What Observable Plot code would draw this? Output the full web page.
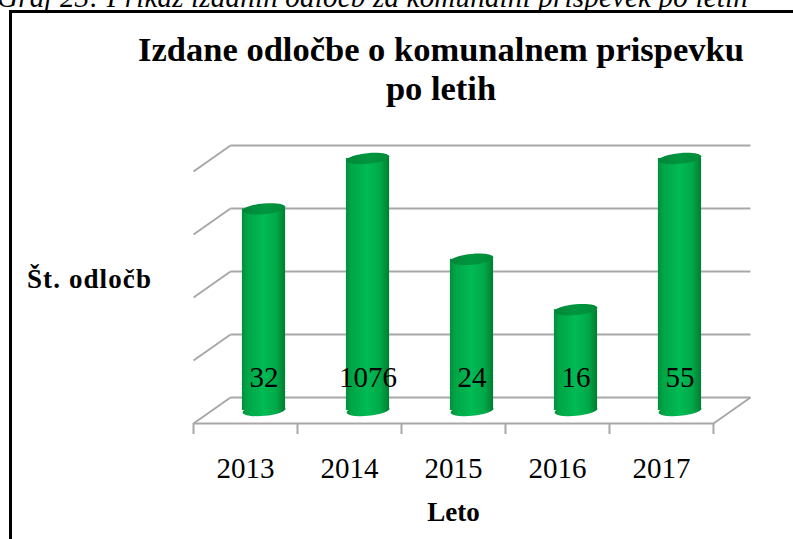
<!DOCTYPE html>
<html>
<head>
<meta charset="utf-8">
<script src="https://cdn.jsdelivr.net/npm/d3@7"></script>
<script src="https://cdn.jsdelivr.net/npm/@observablehq/plot@0.6"></script>
<style>
  html, body { margin: 0; padding: 0; background: #fff; }
  #wrap { position: relative; width: 793px; height: 539px; overflow: hidden; background: #fff; }
  #wrap > * { position: absolute; }
  .serif { font-family: "Liberation Serif", "DejaVu Serif", serif; color: #000; }
</style>
</head>
<body>
<div id="wrap">
  <div id="caption" class="serif" style="left:-3px; top:-17px; font-size:29px; letter-spacing:0.2px; font-style:italic; white-space:nowrap; line-height:29px;"></div>
  <div style="left:9px; top:10px; width:800px; height:3px; background:#000;"></div>
  <div style="left:9px; top:10px; width:3px; height:540px; background:#000;"></div>
  <div id="chart" style="left:0; top:0;"></div>
  <div id="title" class="serif" style="left:60px; width:762px; top:30px; font-size:34.5px; font-weight:bold; text-align:center; line-height:39px;"></div>
  <div id="ylab" class="serif" style="left:27px; top:264px; font-size:27px; letter-spacing:1.1px; font-weight:bold; white-space:nowrap; line-height:30px;"></div>
</div>
<script>
// ---- data ----
const years = ["2013", "2014", "2015", "2016", "2017"];
const counts = [32, 1076, 24, 16, 55];
const gridValues = [0, 10, 20, 30, 40];
const yMax = 40;
const titleLines = ["Izdane odločbe o komunalnem prispevku", "po letih"];
const yLabel = "Št. odločb";
const xLabel = "Leto";
const captionText = "Graf 23: Prikaz izdanih odločb za komunalni prispevek po letih";

// ---- text ----
document.getElementById("caption").textContent = captionText;
document.getElementById("title").innerHTML = titleLines.join("<br>");
document.getElementById("ylab").textContent = yLabel;

// ---- 3D depth offsets in data units ----
const DX = 0.356, DY = 4.13;
const barW = 0.415;

const rows = years.map((y, i) => ({
  year: y, i, value: counts[i],
  shown: Math.min(counts[i], yMax),
  cx: i + 0.5 + DX / 2
}));

// ellipse symbol for cylinder caps
function ellipseSymbol(ratio, angle) {
  return {
    draw(ctx, size) {
      const rx = Math.sqrt(size / Math.PI), ry = rx * ratio, k = 0.5523;
      const c = Math.cos(angle), s = Math.sin(angle);
      const P = (x, y) => [x * c - y * s, x * s + y * c];
      const seq = [
        [[rx, k * ry], [k * rx, ry], [0, ry]],
        [[-k * rx, ry], [-rx, k * ry], [-rx, 0]],
        [[-rx, -k * ry], [-k * rx, -ry], [0, -ry]],
        [[k * rx, -ry], [rx, -k * ry], [rx, 0]]
      ];
      ctx.moveTo(...P(rx, 0));
      for (const [a, b, e] of seq) ctx.bezierCurveTo(...P(...a), ...P(...b), ...P(...e));
      ctx.closePath();
    }
  };
}
const capSym = ellipseSymbol(0.25, -0.09);

const grey = "#a8a8a8";
const chart = Plot.plot({
  width: 793,
  height: 539,
  marginLeft: 193,
  marginRight: 43,
  marginTop: 145,
  marginBottom: 116,
  x: {type: "linear", domain: [0, 5 + DX], axis: null},
  y: {type: "linear", domain: [0, yMax + DY], axis: null},
  style: {background: "transparent", overflow: "visible"},
  marks: [
    // back wall gridlines
    Plot.link(gridValues, {x1: DX, x2: 5 + DX, y1: d => d + DY, y2: d => d + DY, stroke: grey, strokeWidth: 2}),
    // left wall slants
    Plot.link(gridValues, {x1: 0, x2: DX, y1: d => d, y2: d => d + DY, stroke: grey, strokeWidth: 2}),
    // floor front and right edges
    Plot.link([0], {x1: 0, x2: 5, y1: 0, y2: 0, stroke: grey, strokeWidth: 2}),
    Plot.link([0], {x1: 5, x2: 5 + DX, y1: 0, y2: DY, stroke: grey, strokeWidth: 2}),
    // axis ticks at category boundaries
    Plot.axisX({ticks: d3.range(0, years.length + 1), tickFormat: () => "", tickSize: 11, stroke: grey, strokeWidth: 2, label: null}),
    // year labels
    Plot.text(rows, {x: d => d.i + 0.5, y: 0, text: "year", dy: 45, fontSize: 29, fontFamily: "Liberation Serif", fill: "#000"}),
    Plot.text([xLabel], {x: 2.5, y: 0, text: d => d, dy: 89, fontSize: 27, fontWeight: "bold", fontFamily: "Liberation Serif", fill: "#000"}),
    // cylinder bottom caps
    Plot.dot(rows, {x: "cx", y: DY / 2, r: 21.5, symbol: capSym, fill: "url(#cyl)", stroke: "none"}),
    // cylinder bodies
    Plot.rectY(rows, {x1: d => d.cx - barW / 2, x2: d => d.cx + barW / 2, y1: DY / 2, y2: d => d.shown + DY / 2, fill: "url(#cyl)", inset: 0}),
    // cylinder top caps
    Plot.dot(rows, {x: "cx", y: d => d.shown + DY / 2, r: 21.5, symbol: capSym, fill: "url(#cap)", stroke: "none"}),
    // value labels
    Plot.text(rows, {x: "cx", y: DY / 2, text: d => String(d.value), dy: -33, fontSize: 29, fontFamily: "Liberation Serif", fill: "#000"})
  ]
});

const svg = d3.select(chart.tagName === "svg" ? chart : chart.querySelector("svg"));
const defs = svg.insert("defs", ":first-child");
const g1 = defs.append("linearGradient").attr("id", "cyl").attr("x1", 0).attr("x2", 1).attr("y1", 0).attr("y2", 0);
[[0, "#00903a"], [0.12, "#00a545"], [0.5, "#00bb55"], [0.8, "#00a848"], [1, "#007d31"]]
  .forEach(([o, c]) => g1.append("stop").attr("offset", o).attr("stop-color", c));
const g2 = defs.append("linearGradient").attr("id", "cap").attr("x1", 0).attr("x2", 1).attr("y1", 0).attr("y2", 0);
[[0, "#00863a"], [0.5, "#00963f"], [1, "#008a38"]]
  .forEach(([o, c]) => g2.append("stop").attr("offset", o).attr("stop-color", c));

document.getElementById("chart").appendChild(chart);
</script>
</body>
</html>
